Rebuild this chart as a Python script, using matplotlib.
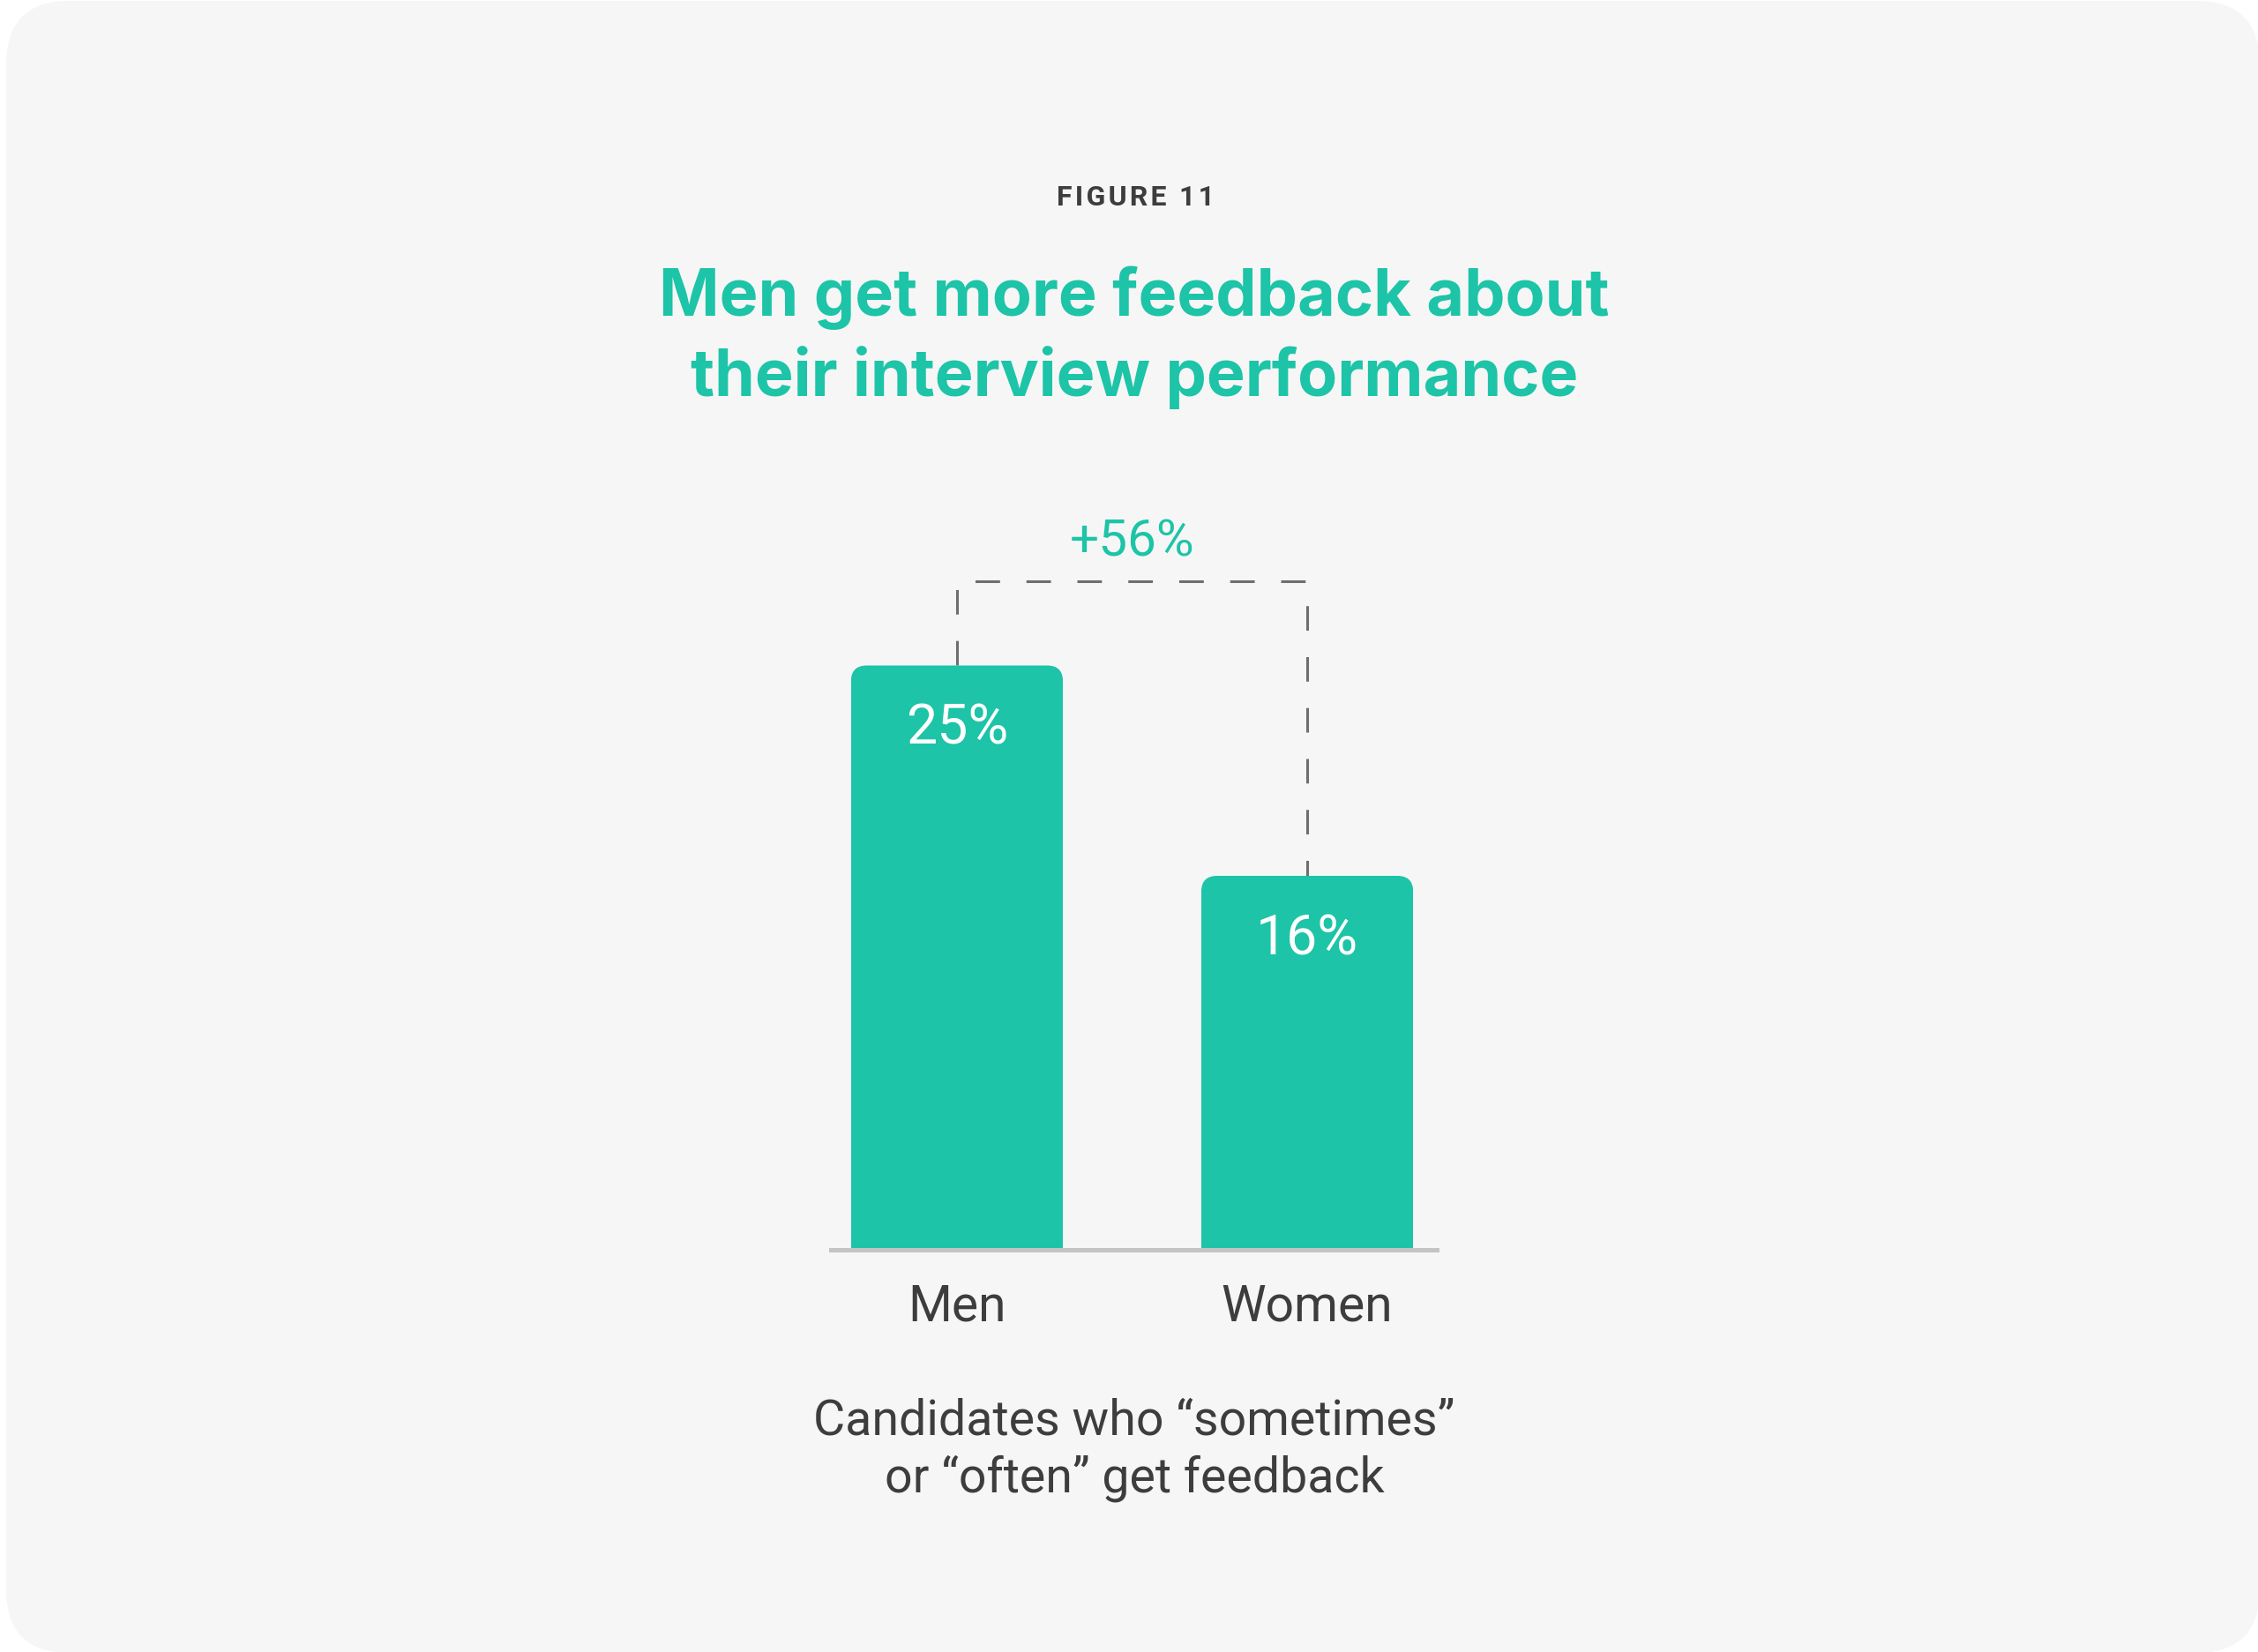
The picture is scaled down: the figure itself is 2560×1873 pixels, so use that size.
import matplotlib.pyplot as plt
from matplotlib.patches import FancyBboxPatch

groups = ['Men', 'Women']
shares = [25, 16]
share_labels = ['25%', '16%']
gap_label = '+56%'
bracket_top = 28.6
fig_tag = 'FIGURE 11'
title_lines = ['Men get more feedback about', 'their interview performance']
note_lines = ['Candidates who \u201csometimes\u201d', 'or \u201coften\u201d get feedback']

teal = '#1dc4a7'
ink = '#3d3d3d'
card_col = '#f6f6f6'
body_font = ['Roboto', 'DejaVu Sans']
head_font = 'Inter'

W, H = 2560, 1873
fig = plt.figure(figsize=(W / 100, H / 100), dpi=100, facecolor='white')

# rounded card behind the chart, sized in inches
card = FancyBboxPatch((0.07, -0.01), 25.55, 18.73,
                      boxstyle='round,pad=0,rounding_size=0.72',
                      transform=fig.dpi_scale_trans, facecolor=card_col,
                      edgecolor='none', zorder=-10)
fig.patches.append(card)

def px(x, y):
    return x / W, 1 - y / H

# letter-spaced tag via hair spaces
fig.text(*px(1287, 224), '\u200a'.join(fig_tag), ha='center', va='center',
         fontsize=23, fontweight='bold', family=body_font, color=ink)
for i, line in enumerate(title_lines):
    fig.text(*px(1286, 338 + 90 * i), line, ha='center', va='center',
             fontsize=53, fontweight='bold', family=head_font, color=teal)
for i, line in enumerate(note_lines):
    fig.text(*px(1286, 1611 + 65 * i), line, ha='center', va='center',
             fontsize=40, family=body_font, color=ink)

# plot area: baseline at y=1417px, bars centred at 1085 and 1482px
ax = fig.add_axes([942 / W, (H - 1417) / H, (1629 - 942) / W, (1417 - 600) / H])
ax.set_xlim(-0.36, 1.37)
ax.set_ylim(0, 30.83)
ax.axis('off')

bars = ax.bar(range(len(groups)), shares, width=0.605, color=teal, zorder=2)

# round the top corners of each bar by clipping
fig.canvas.draw()
ux = ax.transData.transform((1, 0))[0] - ax.transData.transform((0, 0))[0]
uy = ax.transData.transform((0, 1))[1] - ax.transData.transform((0, 0))[1]
r = 18 / ux
for b in bars:
    clip = FancyBboxPatch((b.get_x(), -5), b.get_width(), b.get_height() + 5,
                          boxstyle=f'round,pad=0,rounding_size={r}',
                          mutation_aspect=ux / uy, transform=ax.transData,
                          facecolor='none', edgecolor='none')
    b.set_clip_path(clip)

ax.axhline(0, color='#c4c4c4', lw=3.6, zorder=3, clip_on=False)

# dashed bracket between the two bar tops
ax.plot([0, 0, 1, 1], [shares[0], bracket_top, bracket_top, shares[1]],
        color='#6e6e6e', lw=2.2, dashes=(9.1, 9.8), zorder=1, clip_on=False)
ax.annotate(gap_label, (0.5, bracket_top), xytext=(0, 32), textcoords='offset points',
            ha='center', va='center', fontsize=42, family=body_font, color=teal)

for i, (v, lab) in enumerate(zip(shares, share_labels)):
    ax.annotate(lab, (i, v), xytext=(0, -52), textcoords='offset points',
                ha='center', va='center', fontsize=45, family=body_font,
                color='white', zorder=4)
    ax.annotate(groups[i], (i, 0), xytext=(0, -46.5), textcoords='offset points',
                ha='center', va='center', fontsize=41, family=body_font, color=ink)

fig.savefig('out.png', dpi=100, facecolor='white')
